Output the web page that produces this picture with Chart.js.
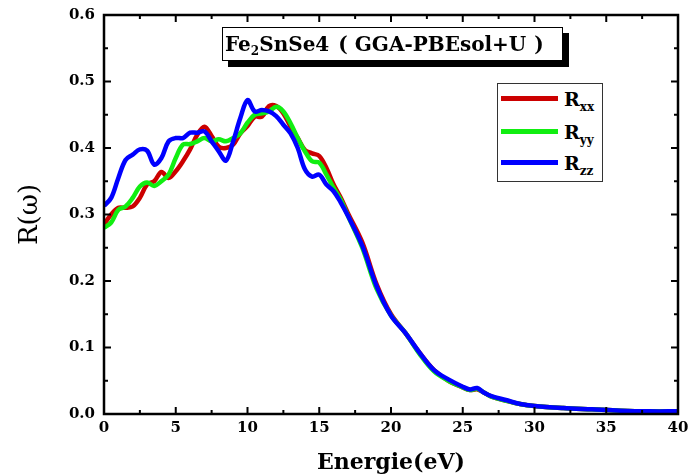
<!DOCTYPE html>
<html><head><meta charset="utf-8">
<script src="https://cdn.jsdelivr.net/npm/chart.js@4"></script>
<style>
body{margin:0;background:#fff;}
#wrap{position:relative;width:689px;height:476px;overflow:hidden;}
canvas{position:absolute;left:0;top:0;}
.txt{position:absolute;font-family:"DejaVu Serif",serif;font-weight:bold;color:#000;}
#title{left:222px;top:27px;width:341px;height:34px;border:1px solid #000;background:#fff;box-shadow:6px 6px 0 #000;font-size:20px;line-height:32px;text-align:left;padding-left:2px;white-space:nowrap;box-sizing:border-box;}
#title sub{font-size:12px;vertical-align:-4px;line-height:0;}
#legend{position:absolute;left:497px;top:83px;width:106px;height:99px;border:1px solid #333;background:#fff;box-sizing:border-box;}
.ln{position:absolute;left:3px;width:57px;height:5px;}
.lt{position:absolute;left:66px;font-family:"DejaVu Serif",serif;font-weight:bold;font-size:19px;line-height:20px;white-space:nowrap;}
.lt sub{font-size:12px;vertical-align:-5px;line-height:0;}
</style>
</head><body>
<div id="wrap">
<canvas id="c" width="689" height="476"></canvas>
<div id="title" class="txt">Fe<sub>2</sub>SnSe4<span style="margin-left:9px">(</span><span style="margin-left:7px">GGA-PBEsol+U</span><span style="margin-left:8px">)</span></div>
<div id="legend">
  <div class="ln" style="top:12px;background:#cc0000"></div><div class="lt" style="top:5px">R<sub>xx</sub></div>
  <div class="ln" style="top:45px;background:#11ee11"></div><div class="lt" style="top:38px">R<sub>yy</sub></div>
  <div class="ln" style="top:76px;background:#0000ff"></div><div class="lt" style="top:69px">R<sub>zz</sub></div>
</div>
</div>
<script>
const energy = [0,0.5,1,1.5,2,2.5,3,3.5,4,4.5,5,5.5,6,6.5,7,7.5,8,8.5,9,9.5,10,10.5,11,11.5,12,12.5,13,13.5,14,14.5,15,15.5,16,16.5,17,18,19,20,21,22,23,24,25,25.5,26,26.5,27,28,29,30,32,34,36,38,40];
const rxx = [0.285,0.300,0.310,0.310,0.312,0.325,0.345,0.350,0.364,0.355,0.365,0.380,0.398,0.420,0.432,0.418,0.402,0.400,0.405,0.422,0.433,0.447,0.447,0.463,0.463,0.452,0.432,0.415,0.397,0.392,0.388,0.370,0.345,0.325,0.302,0.258,0.195,0.150,0.122,0.092,0.066,0.050,0.040,0.036,0.037,0.032,0.026,0.020,0.015,0.012,0.009,0.007,0.005,0.004,0.004];
const ryy = [0.280,0.288,0.307,0.312,0.325,0.342,0.348,0.343,0.350,0.360,0.385,0.405,0.406,0.410,0.415,0.410,0.413,0.410,0.415,0.422,0.438,0.450,0.452,0.455,0.462,0.455,0.437,0.415,0.395,0.380,0.378,0.360,0.340,0.322,0.298,0.250,0.188,0.148,0.122,0.090,0.064,0.050,0.040,0.036,0.038,0.032,0.026,0.020,0.015,0.012,0.009,0.007,0.005,0.004,0.004];
const rzz = [0.313,0.325,0.355,0.382,0.390,0.398,0.396,0.375,0.385,0.410,0.415,0.415,0.423,0.423,0.425,0.410,0.395,0.381,0.410,0.445,0.472,0.455,0.457,0.455,0.448,0.435,0.422,0.400,0.368,0.357,0.360,0.345,0.335,0.318,0.298,0.253,0.192,0.148,0.122,0.092,0.066,0.052,0.041,0.037,0.039,0.032,0.027,0.021,0.015,0.012,0.009,0.007,0.005,0.004,0.004];
const seriesNames = ['Rxx','Ryy','Rzz'];
const seriesColors = ['#cc0000','#11ee11','#0000ff'];
const xTicks = [0,5,10,15,20,25,30,35,40];
const yTicks = [0.0,0.1,0.2,0.3,0.4,0.5,0.6];

const tickFont = {family:'"DejaVu Serif", serif', size:15, weight:'bold'};

const framePlugin = {
  id:'frame',
  afterDatasetsDraw(chart){
    const {ctx, chartArea:a, scales:{x, y}} = chart;
    ctx.save();
    ctx.strokeStyle = '#000';
    ctx.lineWidth = 2;
    ctx.beginPath();
    for (let v = 0; v <= 40.001; v += 2.5) {
      const px = x.getPixelForValue(v);
      const len = (Math.abs(v % 5) < 1e-6) ? 7 : 4;
      ctx.moveTo(px, a.bottom); ctx.lineTo(px, a.bottom - len);
      ctx.moveTo(px, a.top); ctx.lineTo(px, a.top + len);
    }
    for (let i = 0; i <= 12; i++) {
      const v = i * 0.05;
      const py = y.getPixelForValue(v);
      const len = (i % 2 === 0) ? 7 : 4;
      ctx.moveTo(a.left, py); ctx.lineTo(a.left + len, py);
      ctx.moveTo(a.right, py); ctx.lineTo(a.right - len, py);
    }
    ctx.stroke();
    ctx.lineWidth = 2.5;
    ctx.strokeRect(a.left, a.top, a.right - a.left, a.bottom - a.top);
    ctx.restore();
  }
};

const series = [rxx, ryy, rzz];
new Chart(document.getElementById('c'), {
  type:'line',
  data:{
    datasets: series.map((s, k) => ({
      label: seriesNames[k],
      data: energy.map((e, i) => ({x:e, y:s[i]})),
      borderColor: seriesColors[k],
      borderWidth: 4.5,
      pointRadius: 0,
      tension: 0.35,
      fill: false,
      order: 3 - k
    }))
  },
  options:{
    responsive:false,
    animation:false,
    devicePixelRatio:1,
    layout:{padding:{top:15, right:11, left:0, bottom:0}},
    plugins:{legend:{display:false}, tooltip:{enabled:false}},
    scales:{
      x:{
        type:'linear', min:0, max:40,
        afterBuildTicks(s){ s.ticks = xTicks.map(v => ({value:v})); },
        ticks:{font:tickFont, color:'#000', padding:5, maxRotation:0, autoSkip:false},
        grid:{display:false, drawTicks:false},
        border:{display:false},
        title:{display:true, text:'Energie(eV)', color:'#000', font:{family:'"DejaVu Serif", serif', size:22, weight:'bold'}, padding:{top:0,bottom:0}},
        afterFit(s){ s.height = 62; s.paddingLeft = 0; s.paddingRight = 0; }
      },
      y:{
        type:'linear', min:0, max:0.6,
        afterBuildTicks(s){ s.ticks = yTicks.map(v => ({value:v})); },
        ticks:{font:tickFont, color:'#000', padding:9, callback:v => Number(v).toFixed(1)},
        grid:{display:false, drawTicks:false},
        border:{display:false},
        title:{display:true, text:'R(ω)', color:'#000', font:{family:'"DejaVu Serif", serif', size:26, weight:'normal'}, padding:{top:15,bottom:0}},
        afterFit(s){ s.width = 104; s.paddingTop = 0; s.paddingBottom = 0; }
      }
    }
  },
  plugins:[framePlugin]
});
</script>
</body></html>
